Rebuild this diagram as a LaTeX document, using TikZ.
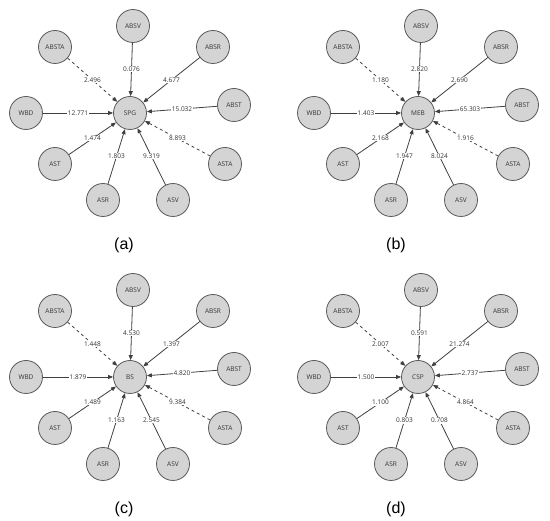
\documentclass[tikz,border=0pt]{standalone}
\usepackage{fontspec}
\setmainfont{Open Sans}
\newfontfamily\capfont{Liberation Sans}
\usetikzlibrary{arrows.meta}

\definecolor{nodegray}{HTML}{D4D4D4}
\definecolor{rimgray}{HTML}{5A5A5A}
\definecolor{linegray}{HTML}{404040}

\tikzset{
  var/.style={circle, draw=rimgray, fill=nodegray, line width=0.8pt,
    minimum size=33pt, inner sep=0pt, font=\fontsize{6.5}{7}\selectfont, text=black!80},
  link/.style={draw=linegray, line width=0.8pt, -{Triangle[length=5pt,width=4pt]}},
  wt/.style={fill=white, inner sep=0.6pt, font=\fontsize{6.5}{7}\selectfont, text=black!80},
  panelcap/.style={font=\capfont\fontsize{16}{18}\selectfont}
}

\begin{document}
\begin{tikzpicture}[x=1pt, y=-1pt]
  \useasboundingbox[fill=white] (0,0) rectangle (550,521);

  % (a) SPG
  \begin{scope}[shift={(130,113)}]
    \node[var] (SPG) at (0,0) {SPG};
    \foreach \name/\x/\y/\val/\ls in {ABSV/3/-87/0.076/solid, ABSTA/-75/-66/2.496/dashed,
      ABSR/83/-66/4.677/solid, WBD/-104/0/12.771/solid, ABST/104/-8/15.032/solid,
      AST/-75/51/1.474/solid, ASTA/95/51/8.893/dashed, ASR/-27/87/1.803/solid, ASV/43/87/9.319/solid}{
      \node[var] (a\name) at (\x,\y) {\name};
      \draw[link,\ls] (a\name) -- node[wt]{\val} (SPG);
    }
    \node[panelcap] (capa) at (-6,132) {(a)};
  \end{scope}

  % (b) MEB
  \begin{scope}[shift={(418,113)}]
    \node[var] (MEB) at (0,0) {MEB};
    \foreach \name/\x/\y/\val/\ls in {ABSV/3/-87/2.820/solid, ABSTA/-75/-66/1.180/dashed,
      ABSR/83/-66/2.690/solid, WBD/-104/0/1.403/solid, ABST/104/-8/65.303/solid,
      AST/-75/51/2.168/solid, ASTA/95/51/1.916/dashed, ASR/-27/87/1.947/solid, ASV/43/87/8.024/solid}{
      \node[var] (b\name) at (\x,\y) {\name};
      \draw[link,\ls] (b\name) -- node[wt]{\val} (MEB);
    }
    \node[panelcap] (capb) at (-22,132) {(b)};
  \end{scope}

  % (c) BS
  \begin{scope}[shift={(130,377)}]
    \node[var] (BS) at (0,0) {BS};
    \foreach \name/\x/\y/\val/\ls in {ABSV/3/-87/4.530/solid, ABSTA/-75/-66/1.448/dashed,
      ABSR/83/-66/1.397/solid, WBD/-104/0/1.879/solid, ABST/104/-8/4.820/solid,
      AST/-75/51/1.489/solid, ASTA/95/51/9.384/dashed, ASR/-27/87/1.163/solid, ASV/43/87/2.545/solid}{
      \node[var] (c\name) at (\x,\y) {\name};
      \draw[link,\ls] (c\name) -- node[wt]{\val} (BS);
    }
    \node[panelcap] (capc) at (-6,132) {(c)};
  \end{scope}

  % (d) CSP
  \begin{scope}[shift={(418,377)}]
    \node[var] (CSP) at (0,0) {CSP};
    \foreach \name/\x/\y/\val/\ls in {ABSV/3/-87/0.591/solid, ABSTA/-75/-66/2.007/dashed,
      ABSR/83/-66/21.274/solid, WBD/-104/0/1.500/solid, ABST/104/-8/2.737/solid,
      AST/-75/51/1.100/solid, ASTA/95/51/4.864/dashed, ASR/-27/87/0.803/solid, ASV/43/87/0.708/solid}{
      \node[var] (d\name) at (\x,\y) {\name};
      \draw[link,\ls] (d\name) -- node[wt]{\val} (CSP);
    }
    \node[panelcap] (capd) at (-22,132) {(d)};
  \end{scope}
\end{tikzpicture}
\end{document}
